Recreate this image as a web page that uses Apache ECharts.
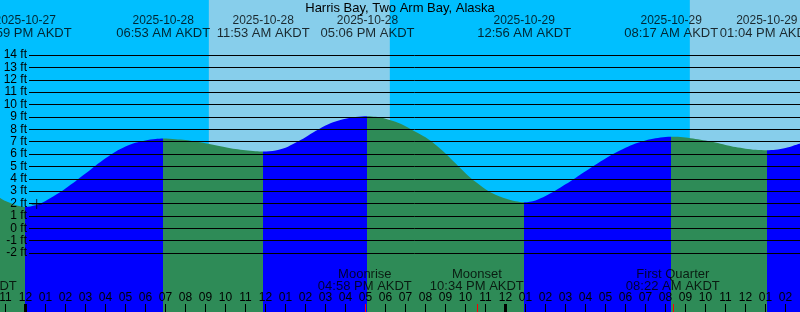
<!DOCTYPE html>
<html><head><meta charset="utf-8">
<script src="https://cdn.jsdelivr.net/npm/echarts@6/dist/echarts.min.js"></script>
<style>html,body{margin:0;padding:0;background:#00BFFF}#c{width:800px;height:312px}</style>
</head><body><div id="c"></div>
<script>
const chartTitle = 'Harris Bay, Two Arm Bay, Alaska';
// tide extremes (labels at top)
const tideDates = ['2025-10-27','2025-10-28','2025-10-28','2025-10-28','2025-10-29','2025-10-29','2025-10-29'];
const tideTimes = ['11:59 PM AKDT','06:53 AM AKDT','11:53 AM AKDT','05:06 PM AKDT','12:56 AM AKDT','08:17 AM AKDT','01:04 PM AKDT'];
const tideKinds = ['low','high','low','high','low','high','low'];
// moon events (labels at bottom)
const moonNames = ['Moonset','Moonrise','Moonset','First Quarter'];
const moonDates = ['2025-10-27','2025-10-28','2025-10-28','2025-10-29'];
const moonTimes = ['09:13 PM AKDT','04:58 PM AKDT','10:34 PM AKDT','08:22 AM AKDT'];
// daylight
const sunriseDates = ['2025-10-28','2025-10-29'];
const sunriseTimes = ['09:10 AM AKDT','09:13 AM AKDT'];
const sunsetDates = ['2025-10-28','2025-10-29'];
const sunsetTimes = ['06:13 PM AKDT','06:10 PM AKDT'];
// tide curve readings: hours from 2025-10-28 00:00 AKDT, height in ft
const curveHours = [-1.275,-1,-0.5,-0.017,0.5,1,1.5,2,2.5,3,3.5,4,4.5,5,5.5,6,6.5,6.883,7.5,8,8.5,9,9.5,10,10.5,11,11.5,11.883,12.5,13,13.5,14,14.5,15,15.5,16,16.5,17.1,17.5,18,18.5,19,19.5,20,20.5,21,21.5,22,22.5,23,23.5,24,24.5,24.933,25.5,26,26.5,27,27.5,28,28.5,29,29.5,30,30.5,31,31.5,32,32.283,32.5,33,33.5,34,34.5,35,35.5,36,36.5,37.067,37.5,38,38.725];
const curveFeet = [2.44,2.2,1.88,1.72,1.85,2.2,2.68,3.22,3.8,4.42,5.05,5.65,6.18,6.6,6.9,7.1,7.21,7.25,7.2,7.13,7.0,6.87,6.7,6.55,6.4,6.3,6.22,6.2,6.28,6.5,6.9,7.35,7.85,8.3,8.62,8.85,8.98,9.05,9.0,8.85,8.6,8.25,7.8,7.35,6.75,6.05,5.25,4.45,3.75,3.15,2.7,2.4,2.18,2.1,2.25,2.6,3.05,3.55,4.07,4.6,5.13,5.64,6.1,6.5,6.84,7.1,7.27,7.37,7.4,7.39,7.34,7.22,7.09,6.92,6.73,6.56,6.43,6.34,6.3,6.34,6.48,6.85];
// marker "+"
const markerHours = [0.56];
const markerFeet = [1.96];
// axis tick values
const hourTickValues = [];
for (let h = -1; h <= 38; h++) hourTickValues.push(h);
const midnightTickValues = [0, 24];
const depthTicks = { min: -2, max: 14, step: 1 };

const X_MIN = -1.275, X_MAX = 38.725;
const FT_MIN = -6.768, FT_MAX = 18.444;
const FONT = '"Liberation Sans", Arial, sans-serif';
const RISING = '#0000FF', FALLING = '#2E8B57', DAY = '#87CEEB', NIGHT = '#00BFFF';

function toHours(d, t) {
  const [y, m, dd] = d.split('-').map(Number);
  const mt = t.match(/(\d+):(\d+) (AM|PM)/);
  let h = (+mt[1]) % 12; if (mt[3] === 'PM') h += 12;
  const days = (Date.UTC(y, m - 1, dd) - Date.UTC(2025, 9, 28)) / 86400000;
  return days * 24 + h + (+mt[2]) / 60;
}
const tideHours = tideDates.map((d, i) => toHours(d, tideTimes[i]));
const moonHours = moonDates.map((d, i) => toHours(d, moonTimes[i]));
const sunriseHours = sunriseDates.map((d, i) => toHours(d, sunriseTimes[i]));
const sunsetHours = sunsetDates.map((d, i) => toHours(d, sunsetTimes[i]));

const pieces = [];
for (let i = 0; i <= tideHours.length; i++) {
  const p = {};
  if (i > 0) p.gt = tideHours[i - 1];
  if (i < tideHours.length) p.lte = tideHours[i];
  const rising = i < tideKinds.length ? tideKinds[i] === 'high' : tideKinds[i - 1] === 'low';
  p.color = rising ? RISING : FALLING;
  pieces.push(p);
}

const hourLabel = v => { let h = ((Math.round(v) % 12) + 12) % 12; if (h === 0) h = 12; return (h < 10 ? '0' : '') + h; };

const chart = echarts.init(document.getElementById('c'), null, { renderer: 'canvas' });
const baseX = { type: 'value', gridIndex: 0, min: X_MIN, max: X_MAX, position: 'bottom',
  axisLine: { show: false, onZero: false }, splitLine: { show: false } };
chart.setOption({
  backgroundColor: NIGHT,
  animation: false,
  title: { text: chartTitle, left: 'center', top: 2, padding: 0,
    textStyle: { fontFamily: FONT, fontSize: 13, fontWeight: 'normal', color: '#000', lineHeight: 13 } },
  grid: [
    { left: 0, right: 0, top: 0, bottom: 0, containLabel: false, outerBoundsMode: 'none' },
    { left: 29, right: 0, top: 55, bottom: 59, containLabel: false, outerBoundsMode: 'none' }
  ],
  xAxis: [
    Object.assign({}, baseX, { z: 10,
      axisTick: { show: true, inside: true, length: 8, lineStyle: { color: '#000', width: 1 }, customValues: hourTickValues },
      axisLabel: { show: true, inside: true, margin: 8, color: '#000', fontFamily: FONT, fontSize: 12,
        customValues: hourTickValues, formatter: hourLabel } }),
    Object.assign({}, baseX, { z: 11,
      axisTick: { show: true, inside: true, length: 8, lineStyle: { color: '#000', width: 3 }, customValues: midnightTickValues },
      axisLabel: { show: false } }),
    Object.assign({}, baseX, { z: 12,
      axisTick: { show: true, inside: true, length: 8, lineStyle: { color: '#FF0000', width: 1 },
        customValues: moonHours.filter(h => h > X_MIN && h < X_MAX) },
      axisLabel: { show: false } }),
    { type: 'value', gridIndex: 1, min: 0, max: 1, show: false }
  ],
  yAxis: [
    { type: 'value', gridIndex: 0, min: FT_MIN, max: FT_MAX, show: false },
    { type: 'value', gridIndex: 0, min: 0, max: 312, inverse: true, show: false },
    { type: 'value', gridIndex: 1, min: depthTicks.min, max: depthTicks.max, interval: depthTicks.step, z: 6,
      axisLine: { show: false }, axisTick: { show: false },
      splitLine: { show: true, lineStyle: { color: '#000', width: 1 } },
      axisLabel: { color: '#000', fontFamily: FONT, fontSize: 12, lineHeight: 11, margin: 2, interval: 0,
        showMinLabel: true, showMaxLabel: true, hideOverlap: false, formatter: v => v + ' ft' } }
  ],
  visualMap: [{ type: 'piecewise', show: false, dimension: 0, seriesIndex: 1, pieces: pieces }],
  series: [
    { type: 'line', xAxisIndex: 0, yAxisIndex: 0, data: [], z: 1, silent: true,
      markArea: { silent: true, itemStyle: { color: DAY, opacity: 1 },
        data: sunriseHours.map((h, i) => [{ xAxis: h }, { xAxis: sunsetHours[i] }]) } },
    { type: 'line', xAxisIndex: 0, yAxisIndex: 0, z: 2, smooth: 0.3, showSymbol: false, symbol: 'none',
      data: curveHours.map((h, i) => [h, curveFeet[i]]),
      lineStyle: { width: 0 }, areaStyle: { origin: 'start', opacity: 1 } },
    { type: 'scatter', xAxisIndex: 0, yAxisIndex: 0, z: 8,
      symbol: 'path://M0,5L10,5M5,0L5,10', symbolSize: 10,
      itemStyle: { color: 'none', borderColor: '#000', borderWidth: 1 },
      data: markerHours.map((h, i) => [h, markerFeet[i]]) },
    { type: 'scatter', xAxisIndex: 0, yAxisIndex: 1, z: 9, clip: false, symbolSize: 0.1,
      itemStyle: { color: 'transparent' },
      data: tideHours.map(h => [h, 27]),
      label: { show: true, position: 'inside', align: 'center', verticalAlign: 'middle', color: '#000',
        formatter: p => '{d|' + tideDates[p.dataIndex] + '}\n{t|' + tideTimes[p.dataIndex] + '}',
        rich: { d: { fontFamily: FONT, fontSize: 12, lineHeight: 12.5, color: '#000', align: 'center' },
                t: { fontFamily: FONT, fontSize: 13, lineHeight: 12.5, color: '#000', align: 'center' } } } },
    { type: 'scatter', xAxisIndex: 0, yAxisIndex: 1, z: 9, clip: false, symbolSize: 0.1,
      itemStyle: { color: 'transparent' },
      data: moonHours.map(h => [h, 280.5]),
      label: { show: true, position: 'inside', align: 'center', verticalAlign: 'middle', color: '#000',
        formatter: p => '{n|' + moonNames[p.dataIndex] + '}\n{t|' + moonTimes[p.dataIndex] + '}',
        rich: { n: { fontFamily: FONT, fontSize: 13, lineHeight: 12.5, color: '#000', align: 'center' },
                t: { fontFamily: FONT, fontSize: 13, lineHeight: 12.5, color: '#000', align: 'center' } } } },
    { type: 'line', xAxisIndex: 3, yAxisIndex: 2, data: [] }
  ]
});
</script></body></html>
